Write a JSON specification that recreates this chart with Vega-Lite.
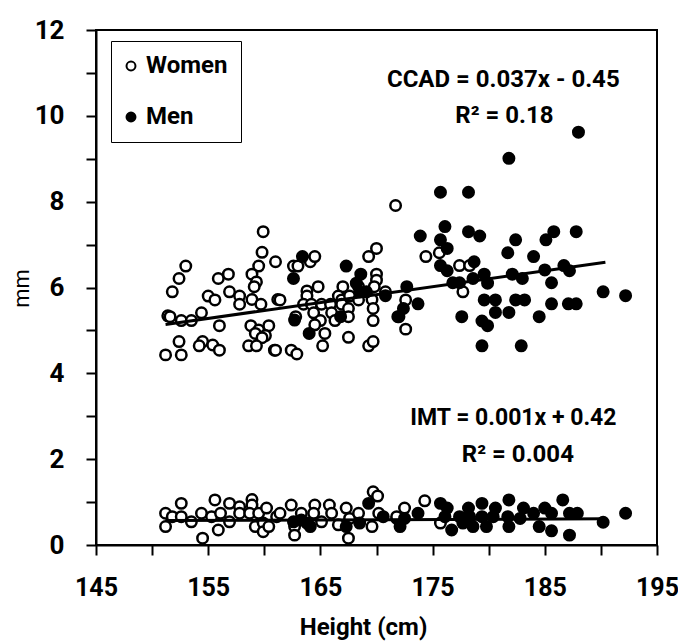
{
  "$schema": "https://vega.github.io/schema/vega-lite/v6.json",
  "width": 561,
  "height": 515,
  "autosize": "none",
  "padding": {"left": 96, "top": 30, "right": 21, "bottom": 96},
  "background": "white",
  "config": {
    "font": "Roboto",
    "view": {"stroke": "black", "strokeWidth": 2}
  },
  "datasets": {
    "pts": [
      {"g":"Women","m":"CCAD","h":159.9,"v":7.30},{"g":"Women","m":"CCAD","h":159.8,"v":6.82},{"g":"Women","m":"CCAD","h":153.0,"v":6.50},{"g":"Women","m":"CCAD","h":159.5,"v":6.50},{"g":"Women","m":"CCAD","h":161.0,"v":6.60},{"g":"Women","m":"CCAD","h":152.4,"v":6.21},{"g":"Women","m":"CCAD","h":155.9,"v":6.21},{"g":"Women","m":"CCAD","h":156.8,"v":6.31},{"g":"Women","m":"CCAD","h":158.9,"v":6.31},{"g":"Women","m":"CCAD","h":159.3,"v":6.13},
      {"g":"Women","m":"CCAD","h":159.1,"v":6.02},{"g":"Women","m":"CCAD","h":151.8,"v":5.90},{"g":"Women","m":"CCAD","h":156.9,"v":5.90},{"g":"Women","m":"CCAD","h":157.8,"v":5.80},{"g":"Women","m":"CCAD","h":155.0,"v":5.80},{"g":"Women","m":"CCAD","h":155.6,"v":5.71},{"g":"Women","m":"CCAD","h":157.8,"v":5.61},{"g":"Women","m":"CCAD","h":158.9,"v":5.72},{"g":"Women","m":"CCAD","h":159.7,"v":5.61},{"g":"Women","m":"CCAD","h":161.2,"v":5.72},
      {"g":"Women","m":"CCAD","h":154.4,"v":5.41},{"g":"Women","m":"CCAD","h":151.4,"v":5.34},{"g":"Women","m":"CCAD","h":151.6,"v":5.32},{"g":"Women","m":"CCAD","h":152.6,"v":5.23},{"g":"Women","m":"CCAD","h":153.5,"v":5.23},{"g":"Women","m":"CCAD","h":156.0,"v":5.11},{"g":"Women","m":"CCAD","h":158.8,"v":5.11},{"g":"Women","m":"CCAD","h":159.5,"v":5.01},{"g":"Women","m":"CCAD","h":160.4,"v":5.11},{"g":"Women","m":"CCAD","h":159.2,"v":4.93},
      {"g":"Women","m":"CCAD","h":160.1,"v":4.88},{"g":"Women","m":"CCAD","h":159.8,"v":4.83},{"g":"Women","m":"CCAD","h":152.4,"v":4.74},{"g":"Women","m":"CCAD","h":154.5,"v":4.74},{"g":"Women","m":"CCAD","h":154.2,"v":4.64},{"g":"Women","m":"CCAD","h":155.4,"v":4.66},{"g":"Women","m":"CCAD","h":156.0,"v":4.54},{"g":"Women","m":"CCAD","h":158.6,"v":4.64},{"g":"Women","m":"CCAD","h":159.3,"v":4.64},{"g":"Women","m":"CCAD","h":160.9,"v":4.54},
      {"g":"Women","m":"CCAD","h":151.2,"v":4.43},{"g":"Women","m":"CCAD","h":152.6,"v":4.43},{"g":"Women","m":"CCAD","h":171.7,"v":7.91},{"g":"Women","m":"CCAD","h":170.0,"v":6.91},{"g":"Women","m":"CCAD","h":169.3,"v":6.72},{"g":"Women","m":"CCAD","h":162.6,"v":6.50},{"g":"Women","m":"CCAD","h":163.0,"v":6.50},{"g":"Women","m":"CCAD","h":164.1,"v":6.60},{"g":"Women","m":"CCAD","h":164.5,"v":6.72},{"g":"Women","m":"CCAD","h":170.0,"v":6.31},
      {"g":"Women","m":"CCAD","h":170.0,"v":6.17},{"g":"Women","m":"CCAD","h":168.4,"v":6.02},{"g":"Women","m":"CCAD","h":164.8,"v":6.02},{"g":"Women","m":"CCAD","h":163.8,"v":5.92},{"g":"Women","m":"CCAD","h":167.0,"v":6.02},{"g":"Women","m":"CCAD","h":169.8,"v":6.02},{"g":"Women","m":"CCAD","h":170.8,"v":5.90},{"g":"Women","m":"CCAD","h":161.4,"v":5.71},{"g":"Women","m":"CCAD","h":163.8,"v":5.80},{"g":"Women","m":"CCAD","h":166.6,"v":5.80},
      {"g":"Women","m":"CCAD","h":166.9,"v":5.71},{"g":"Women","m":"CCAD","h":167.6,"v":5.80},{"g":"Women","m":"CCAD","h":168.4,"v":5.71},{"g":"Women","m":"CCAD","h":169.6,"v":5.72},{"g":"Women","m":"CCAD","h":163.5,"v":5.61},{"g":"Women","m":"CCAD","h":164.2,"v":5.61},{"g":"Women","m":"CCAD","h":165.1,"v":5.61},{"g":"Women","m":"CCAD","h":165.9,"v":5.61},{"g":"Women","m":"CCAD","h":166.9,"v":5.61},{"g":"Women","m":"CCAD","h":167.5,"v":5.51},
      {"g":"Women","m":"CCAD","h":164.4,"v":5.41},{"g":"Women","m":"CCAD","h":166.0,"v":5.41},{"g":"Women","m":"CCAD","h":169.7,"v":5.51},{"g":"Women","m":"CCAD","h":162.8,"v":5.32},{"g":"Women","m":"CCAD","h":167.5,"v":5.32},{"g":"Women","m":"CCAD","h":166.3,"v":5.23},{"g":"Women","m":"CCAD","h":165.0,"v":5.23},{"g":"Women","m":"CCAD","h":169.7,"v":5.23},{"g":"Women","m":"CCAD","h":164.5,"v":5.13},{"g":"Women","m":"CCAD","h":165.4,"v":4.93},
      {"g":"Women","m":"CCAD","h":167.5,"v":4.84},{"g":"Women","m":"CCAD","h":165.2,"v":4.64},{"g":"Women","m":"CCAD","h":161.0,"v":4.54},{"g":"Women","m":"CCAD","h":162.4,"v":4.54},{"g":"Women","m":"CCAD","h":162.9,"v":4.45},{"g":"Women","m":"CCAD","h":169.3,"v":4.64},{"g":"Women","m":"CCAD","h":169.7,"v":4.74},{"g":"Women","m":"CCAD","h":175.6,"v":6.81},{"g":"Women","m":"CCAD","h":174.4,"v":6.72},{"g":"Women","m":"CCAD","h":177.4,"v":6.51},
      {"g":"Women","m":"CCAD","h":178.3,"v":6.51},{"g":"Women","m":"CCAD","h":177.7,"v":5.90},{"g":"Women","m":"CCAD","h":172.6,"v":5.71},{"g":"Women","m":"CCAD","h":172.6,"v":5.03},
      {"g":"Women","m":"IMT","h":151.2,"v":0.74},{"g":"Women","m":"IMT","h":151.2,"v":0.43},{"g":"Women","m":"IMT","h":151.8,"v":0.66},{"g":"Women","m":"IMT","h":152.6,"v":0.97},{"g":"Women","m":"IMT","h":152.6,"v":0.66},{"g":"Women","m":"IMT","h":153.5,"v":0.54},{"g":"Women","m":"IMT","h":154.4,"v":0.74},{"g":"Women","m":"IMT","h":154.5,"v":0.16},{"g":"Women","m":"IMT","h":155.3,"v":0.66},{"g":"Women","m":"IMT","h":155.6,"v":1.05},
      {"g":"Women","m":"IMT","h":156.1,"v":0.74},{"g":"Women","m":"IMT","h":155.9,"v":0.35},{"g":"Women","m":"IMT","h":156.9,"v":0.97},{"g":"Women","m":"IMT","h":156.9,"v":0.54},{"g":"Women","m":"IMT","h":157.8,"v":0.89},{"g":"Women","m":"IMT","h":157.8,"v":0.74},{"g":"Women","m":"IMT","h":158.9,"v":1.06},{"g":"Women","m":"IMT","h":158.9,"v":0.93},{"g":"Women","m":"IMT","h":158.7,"v":0.74},{"g":"Women","m":"IMT","h":159.5,"v":0.74},
      {"g":"Women","m":"IMT","h":159.2,"v":0.43},{"g":"Women","m":"IMT","h":159.9,"v":0.51},{"g":"Women","m":"IMT","h":159.9,"v":0.31},{"g":"Women","m":"IMT","h":160.4,"v":0.43},{"g":"Women","m":"IMT","h":160.2,"v":0.86},{"g":"Women","m":"IMT","h":161.1,"v":0.66},{"g":"Women","m":"IMT","h":161.4,"v":0.74},{"g":"Women","m":"IMT","h":162.4,"v":0.93},{"g":"Women","m":"IMT","h":162.7,"v":0.43},{"g":"Women","m":"IMT","h":162.7,"v":0.23},
      {"g":"Women","m":"IMT","h":163.3,"v":0.74},{"g":"Women","m":"IMT","h":164.5,"v":0.93},{"g":"Women","m":"IMT","h":164.4,"v":0.74},{"g":"Women","m":"IMT","h":165.1,"v":0.54},{"g":"Women","m":"IMT","h":165.8,"v":0.93},{"g":"Women","m":"IMT","h":166.0,"v":0.74},{"g":"Women","m":"IMT","h":166.6,"v":0.47},{"g":"Women","m":"IMT","h":167.3,"v":0.86},{"g":"Women","m":"IMT","h":167.5,"v":0.16},{"g":"Women","m":"IMT","h":167.6,"v":0.62},
      {"g":"Women","m":"IMT","h":168.4,"v":0.74},{"g":"Women","m":"IMT","h":169.7,"v":1.24},{"g":"Women","m":"IMT","h":170.1,"v":1.14},{"g":"Women","m":"IMT","h":169.6,"v":0.43},{"g":"Women","m":"IMT","h":170.2,"v":0.74},{"g":"Women","m":"IMT","h":171.8,"v":0.62},{"g":"Women","m":"IMT","h":174.3,"v":1.03},{"g":"Women","m":"IMT","h":172.5,"v":0.86},{"g":"Women","m":"IMT","h":171.8,"v":0.66},{"g":"Women","m":"IMT","h":175.7,"v":0.51},
      {"g":"Men","m":"CCAD","h":163.4,"v":6.72},{"g":"Men","m":"CCAD","h":167.3,"v":6.50},{"g":"Men","m":"CCAD","h":162.6,"v":6.21},{"g":"Men","m":"CCAD","h":168.6,"v":6.31},{"g":"Men","m":"CCAD","h":168.2,"v":6.10},{"g":"Men","m":"CCAD","h":168.5,"v":5.90},{"g":"Men","m":"CCAD","h":169.1,"v":5.90},{"g":"Men","m":"CCAD","h":170.8,"v":5.81},{"g":"Men","m":"CCAD","h":162.7,"v":5.24},{"g":"Men","m":"CCAD","h":166.8,"v":5.32},
      {"g":"Men","m":"CCAD","h":171.9,"v":5.32},{"g":"Men","m":"CCAD","h":164.0,"v":4.93},{"g":"Men","m":"CCAD","h":188.0,"v":9.62},{"g":"Men","m":"CCAD","h":181.8,"v":9.01},{"g":"Men","m":"CCAD","h":175.7,"v":8.22},{"g":"Men","m":"CCAD","h":178.2,"v":8.22},{"g":"Men","m":"CCAD","h":176.1,"v":7.42},{"g":"Men","m":"CCAD","h":173.9,"v":7.20},{"g":"Men","m":"CCAD","h":175.7,"v":7.11},{"g":"Men","m":"CCAD","h":178.2,"v":7.30},
      {"g":"Men","m":"CCAD","h":179.2,"v":7.20},{"g":"Men","m":"CCAD","h":182.4,"v":7.11},{"g":"Men","m":"CCAD","h":185.1,"v":7.11},{"g":"Men","m":"CCAD","h":185.8,"v":7.30},{"g":"Men","m":"CCAD","h":187.8,"v":7.30},{"g":"Men","m":"CCAD","h":176.3,"v":6.91},{"g":"Men","m":"CCAD","h":181.7,"v":6.81},{"g":"Men","m":"CCAD","h":184.0,"v":6.72},{"g":"Men","m":"CCAD","h":175.7,"v":6.51},{"g":"Men","m":"CCAD","h":176.3,"v":6.39},
      {"g":"Men","m":"CCAD","h":178.7,"v":6.60},{"g":"Men","m":"CCAD","h":178.6,"v":6.21},{"g":"Men","m":"CCAD","h":179.6,"v":6.31},{"g":"Men","m":"CCAD","h":176.8,"v":6.11},{"g":"Men","m":"CCAD","h":177.4,"v":6.11},{"g":"Men","m":"CCAD","h":179.9,"v":6.10},{"g":"Men","m":"CCAD","h":182.1,"v":6.31},{"g":"Men","m":"CCAD","h":183.0,"v":6.21},{"g":"Men","m":"CCAD","h":185.0,"v":6.41},{"g":"Men","m":"CCAD","h":186.7,"v":6.51},
      {"g":"Men","m":"CCAD","h":187.2,"v":6.39},{"g":"Men","m":"CCAD","h":185.6,"v":6.11},{"g":"Men","m":"CCAD","h":172.7,"v":6.02},{"g":"Men","m":"CCAD","h":190.2,"v":5.90},{"g":"Men","m":"CCAD","h":192.2,"v":5.81},{"g":"Men","m":"CCAD","h":173.7,"v":5.62},{"g":"Men","m":"CCAD","h":172.4,"v":5.51},{"g":"Men","m":"CCAD","h":172.0,"v":5.32},{"g":"Men","m":"CCAD","h":177.6,"v":5.32},{"g":"Men","m":"CCAD","h":179.6,"v":5.71},
      {"g":"Men","m":"CCAD","h":180.6,"v":5.71},{"g":"Men","m":"CCAD","h":182.4,"v":5.71},{"g":"Men","m":"CCAD","h":183.2,"v":5.71},{"g":"Men","m":"CCAD","h":185.6,"v":5.62},{"g":"Men","m":"CCAD","h":187.1,"v":5.62},{"g":"Men","m":"CCAD","h":187.8,"v":5.62},{"g":"Men","m":"CCAD","h":180.6,"v":5.42},{"g":"Men","m":"CCAD","h":181.8,"v":5.42},{"g":"Men","m":"CCAD","h":184.5,"v":5.32},{"g":"Men","m":"CCAD","h":179.4,"v":5.22},
      {"g":"Men","m":"CCAD","h":179.9,"v":5.11},{"g":"Men","m":"CCAD","h":179.4,"v":4.64},{"g":"Men","m":"CCAD","h":182.9,"v":4.64},
      {"g":"Men","m":"IMT","h":162.6,"v":0.54},{"g":"Men","m":"IMT","h":163.3,"v":0.58},{"g":"Men","m":"IMT","h":163.8,"v":0.51},{"g":"Men","m":"IMT","h":164.1,"v":0.43},{"g":"Men","m":"IMT","h":167.3,"v":0.43},{"g":"Men","m":"IMT","h":168.5,"v":0.51},{"g":"Men","m":"IMT","h":169.3,"v":0.97},{"g":"Men","m":"IMT","h":170.6,"v":0.66},{"g":"Men","m":"IMT","h":172.1,"v":0.43},{"g":"Men","m":"IMT","h":172.5,"v":0.62},
      {"g":"Men","m":"IMT","h":173.7,"v":0.74},{"g":"Men","m":"IMT","h":175.7,"v":0.97},{"g":"Men","m":"IMT","h":176.3,"v":0.86},{"g":"Men","m":"IMT","h":176.1,"v":0.66},{"g":"Men","m":"IMT","h":176.7,"v":0.35},{"g":"Men","m":"IMT","h":177.4,"v":0.66},{"g":"Men","m":"IMT","h":177.7,"v":0.51},{"g":"Men","m":"IMT","h":178.2,"v":0.86},{"g":"Men","m":"IMT","h":178.3,"v":0.66},{"g":"Men","m":"IMT","h":178.6,"v":0.43},
      {"g":"Men","m":"IMT","h":179.4,"v":0.97},{"g":"Men","m":"IMT","h":179.4,"v":0.66},{"g":"Men","m":"IMT","h":179.8,"v":0.43},{"g":"Men","m":"IMT","h":180.6,"v":0.86},{"g":"Men","m":"IMT","h":180.4,"v":0.66},{"g":"Men","m":"IMT","h":181.8,"v":1.05},{"g":"Men","m":"IMT","h":181.7,"v":0.66},{"g":"Men","m":"IMT","h":181.8,"v":0.43},{"g":"Men","m":"IMT","h":182.8,"v":0.62},{"g":"Men","m":"IMT","h":183.1,"v":0.86},
      {"g":"Men","m":"IMT","h":184.0,"v":0.74},{"g":"Men","m":"IMT","h":184.5,"v":0.43},{"g":"Men","m":"IMT","h":185.0,"v":0.86},{"g":"Men","m":"IMT","h":185.6,"v":0.74},{"g":"Men","m":"IMT","h":185.6,"v":0.33},{"g":"Men","m":"IMT","h":186.6,"v":1.05},{"g":"Men","m":"IMT","h":187.2,"v":0.74},{"g":"Men","m":"IMT","h":187.2,"v":0.23},{"g":"Men","m":"IMT","h":187.9,"v":0.74},{"g":"Men","m":"IMT","h":190.2,"v":0.53},
      {"g":"Men","m":"IMT","h":192.2,"v":0.74}
    ],
    "fits": [
      {"m":"CCAD","h":151.2,"v":5.14},{"m":"CCAD","h":190.4,"v":6.59},
      {"m":"IMT","h":151.2,"v":0.57},{"m":"IMT","h":190.4,"v":0.61}
    ]
  },
  "layer": [
    {
      "data": {"name": "pts"},
      "mark": {"type": "circle", "size": 110, "stroke": "black", "strokeWidth": 2.5, "opacity": 1},
      "encoding": {
        "x": {
          "field": "h", "type": "quantitative",
          "scale": {"domain": [145, 195], "nice": false, "zero": false},
          "axis": {
            "title": "Height (cm)",
            "values": [145, 150, 155, 160, 165, 170, 175, 180, 185, 190, 195],
            "labelExpr": "datum.value % 10 == 5 ? datum.label : ''",
            "grid": false,
            "domainColor": "black", "domainWidth": 2,
            "tickColor": "black", "tickWidth": 2, "tickSize": 10,
            "labelFontSize": 25, "labelFontWeight": "bold", "labelColor": "black",
            "labelPadding": 20, "labelFlush": false,
            "titleFontSize": 24, "titleFontWeight": "bold", "titleColor": "black",
            "titleX": 267, "titleY": 89, "titleAlign": "center", "titleBaseline": "alphabetic"
          }
        },
        "y": {
          "field": "v", "type": "quantitative",
          "scale": {"domain": [0, 12], "nice": false},
          "axis": {
            "title": "mm",
            "values": [0, 0.5, 1, 1.5, 2, 2.5, 3, 3.5, 4, 4.5, 5, 5.5, 6, 6.5, 7, 7.5, 8, 8.5, 9, 9.5, 10, 10.5, 11, 11.5, 12],
            "labelExpr": "datum.value % 2 == 0 ? datum.label : ''",
            "grid": false,
            "domainColor": "black", "domainWidth": 2,
            "tickColor": "black", "tickWidth": 2, "tickSize": 10,
            "labelFontSize": 26, "labelFontWeight": "bold", "labelColor": "black",
            "labelPadding": 22, "labelFlush": false,
            "titleFontSize": 22, "titleFontWeight": "normal", "titleColor": "black",
            "titleX": -68, "titleY": 258, "titleAngle": -90, "titleAlign": "center", "titleBaseline": "alphabetic"
          }
        },
        "fill": {
          "field": "g", "type": "nominal",
          "scale": {"domain": ["Women", "Men"], "range": ["white", "black"]},
          "legend": {
            "title": null,
            "orient": "none", "legendX": 15, "legendY": 11,
            "strokeColor": "black", "padding": 13,
            "symbolType": "circle", "symbolSize": 80, "symbolStrokeColor": "black", "symbolStrokeWidth": 2,
            "symbolOffset": -5,
            "labelFontSize": 24, "labelFontWeight": "bold", "labelColor": "black", "labelOffset": 3,
            "rowPadding": 27,
            "encode": {"legend": {"update": {"strokeWidth": {"value": 2}}}}
          }
        }
      }
    },
    {
      "data": {"name": "fits"},
      "mark": {"type": "line", "color": "black", "strokeWidth": 3},
      "encoding": {
        "x": {"field": "h", "type": "quantitative"},
        "y": {"field": "v", "type": "quantitative"},
        "detail": {"field": "m"}
      }
    },
    {
      "data": {"values": [{}]},
      "mark": {"type": "text", "fontSize": 24, "fontWeight": "bold", "color": "black", "align": "center", "baseline": "alphabetic"},
      "encoding": {"x": {"datum": 181.3}, "y": {"datum": 10.67}, "text": {"value": "CCAD = 0.037x - 0.45"}}
    },
    {
      "data": {"values": [{}]},
      "mark": {"type": "text", "fontSize": 24, "fontWeight": "bold", "color": "black", "align": "center", "baseline": "alphabetic"},
      "encoding": {"x": {"datum": 181.4}, "y": {"datum": 9.83}, "text": {"value": "R² = 0.18"}}
    },
    {
      "data": {"values": [{}]},
      "mark": {"type": "text", "fontSize": 23, "fontWeight": "bold", "color": "black", "align": "center", "baseline": "alphabetic"},
      "encoding": {"x": {"datum": 182.2}, "y": {"datum": 2.8}, "text": {"value": "IMT = 0.001x + 0.42"}}
    },
    {
      "data": {"values": [{}]},
      "mark": {"type": "text", "fontSize": 24, "fontWeight": "bold", "color": "black", "align": "center", "baseline": "alphabetic"},
      "encoding": {"x": {"datum": 182.6}, "y": {"datum": 1.93}, "text": {"value": "R² = 0.004"}}
    }
  ]
}
